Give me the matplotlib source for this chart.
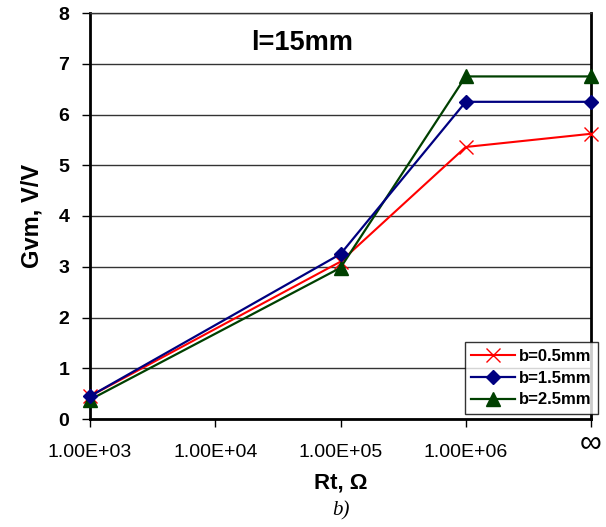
import matplotlib
matplotlib.use("Agg")
import matplotlib.pyplot as plt

plt.rcParams['font.family'] = ['Liberation Sans', 'DejaVu Sans']

# Resistance positions (evenly spaced categories) and tick labels
x_labels = ["1.00E+03", "1.00E+04", "1.00E+05", "1.00E+06", "\u221e"]
x_pos = [0, 2, 3, 4]          # measured at 1e3, 1e5, 1e6 and infinity

gvm_b05 = [0.45, 3.10, 5.36, 5.62]
gvm_b15 = [0.45, 3.25, 6.25, 6.25]
gvm_b25 = [0.38, 2.98, 6.75, 6.75]

fig = plt.figure(figsize=(6.06, 5.27), dpi=100)
ax = fig.add_axes([90/606, 1-419/527, (591-90)/606, (419-13)/527])

ax.set_xlim(0, 4)
ax.set_ylim(0, 8)
ax.set_yticks(range(0, 9))
ax.yaxis.grid(True, color='#333333', linewidth=1.0)
ax.set_axisbelow(True)

ax.plot(x_pos, gvm_b05, color='#ff0000', linewidth=1.5, marker='x',
        markersize=10, markeredgewidth=1.0, label='b=0.5mm', zorder=3,
        clip_on=False)
ax.plot(x_pos, gvm_b15, color='#000080', linewidth=1.6, marker='D',
        markersize=7.5, label='b=1.5mm', zorder=4, clip_on=False)
ax.plot(x_pos, gvm_b25, color='#004000', linewidth=1.6, marker='^',
        markersize=10, label='b=2.5mm', zorder=3, clip_on=False)

# Numeric tick labels; the infinity sign is drawn separately, larger and higher
ax.set_xticks(range(5))
ax.set_xticklabels(x_labels[:-1] + [""])
ax.annotate(x_labels[-1], xy=(4, 0), xycoords=('data', 'axes fraction'),
            xytext=(0, -24), textcoords='offset pixels',
            ha='center', va='center', fontsize=22)

ax.tick_params(axis='both', direction='out', length=6, width=1.0, colors='black')
ax.tick_params(axis='x', pad=12, labelsize=14)
ax.tick_params(axis='y', pad=9, labelsize=14)
for lbl in ax.get_yticklabels():
    lbl.set_fontweight('bold')

for side in ['left', 'bottom', 'right']:
    ax.spines[side].set_linewidth(2.0)
    ax.spines[side].set_color('black')
ax.spines['top'].set_linewidth(1.0)
ax.spines['top'].set_color('#333333')

ax.set_ylabel('Gvm, V/V', fontsize=17, fontweight='bold', labelpad=11)
ax.set_xlabel('Rt, \u03a9', fontsize=16, fontweight='bold', labelpad=8)

ax.text((302 - 90) / 501, 0.925, 'l=15mm', transform=ax.transAxes,
        ha='center', va='center', fontsize=19.5, fontweight='bold')

leg = ax.legend(loc='lower right', bbox_to_anchor=(1.014, 0.012),
                frameon=True, fancybox=False, edgecolor='black',
                handlelength=2.6, handletextpad=0.25, borderpad=0.4,
                labelspacing=0.4, borderaxespad=0.0,
                prop={'weight': 'bold', 'size': 12})
leg.get_frame().set_linewidth(1.0)

fig.text(0.5 * (90 + 591) / 606, 1 - 511/527, 'b)', ha='center', va='center',
         fontsize=15, style='italic', family='Liberation Serif')

fig.savefig('out.png', dpi=100)
